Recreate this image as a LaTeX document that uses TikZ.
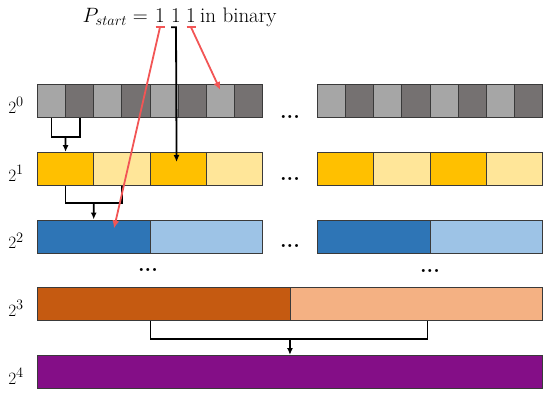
\documentclass[tikz,border=0pt]{standalone}
\usetikzlibrary{arrows.meta,calc}
\definecolor{gL}{HTML}{A6A6A6}
\definecolor{gD}{HTML}{757171}
\definecolor{yD}{HTML}{FFC000}
\definecolor{yL}{HTML}{FFE699}
\definecolor{bD}{HTML}{2E75B6}
\definecolor{bL}{HTML}{9DC3E6}
\definecolor{oD}{HTML}{C55A11}
\definecolor{oL}{HTML}{F4B183}
\definecolor{pu}{HTML}{840E87}
\definecolor{rd}{HTML}{F25555}
\definecolor{bord}{HTML}{3A3A3A}
\begin{document}
\begin{tikzpicture}[x=1pt,y=-1pt,
  cell/.style={draw=bord,line width=0.9pt,inner sep=0pt,anchor=north west,minimum height=33pt},
  lab/.style={anchor=base,inner sep=0pt,font=\fontsize{19}{22}\selectfont},
  dots/.style={inner sep=0pt,font=\fontsize{21}{24}\selectfont\bfseries},
  conn/.style={draw=black,line width=1.8pt},
  tip/.style={-{Latex[length=7pt,width=6pt]}},
  redarr/.style={draw=rd,line width=1.8pt,-{Latex[length=8pt,width=7pt]}},
  ttl/.style={inner sep=0pt,anchor=base,font=\fontsize{21}{24}\selectfont}]
\useasboundingbox (0,0) rectangle (550,394);
% row 0
\foreach \i/\c in {1/gL,2/gD,3/gL,4/gD,5/gL,6/gD,7/gL,8/gD}{
  \node[cell,fill=\c,minimum width=28.125pt] (r0c\i) at ({37+(\i-1)*28.125},84) {};
  \node[cell,fill=\c,minimum width=28.125pt] (r0d\i) at ({317+(\i-1)*28.125},84) {};
}
% row 1
\foreach \i/\c in {1/yD,2/yL,3/yD,4/yL}{
  \node[cell,fill=\c,minimum width=56.25pt] (r1c\i) at ({37+(\i-1)*56.25},152) {};
  \node[cell,fill=\c,minimum width=56.25pt] (r1d\i) at ({317+(\i-1)*56.25},152) {};
}
% row 2
\foreach \i/\c in {1/bD,2/bL}{
  \node[cell,fill=\c,minimum width=112.5pt] (r2c\i) at ({37+(\i-1)*112.5},219.5) {};
  \node[cell,fill=\c,minimum width=112.5pt] (r2d\i) at ({317+(\i-1)*112.5},219.5) {};
}
% row 3
\node[cell,fill=oD,minimum width=253pt] (r3c1) at (37,287) {};
\node[cell,fill=oL,minimum width=252pt] (r3c2) at (290,287) {};
% row 4
\node[cell,fill=pu,minimum width=505pt] (r4) at (37,355) {};
% labels
\node[lab] (l0) at (16,113) {$2^0$};
\node[lab] (l1) at (16,181) {$2^1$};
\node[lab] (l2) at (16,248.5) {$2^2$};
\node[lab] (l3) at (16,316) {$2^3$};
\node[lab] (l4) at (16,384) {$2^4$};
% dots
\node[dots] (e0) at (290,117) {...};
\node[dots] (e1) at (290,179) {...};
\node[dots] (e2) at (290,246) {...};
\node[dots] (e3) at (148,270) {...};
\node[dots] (e4) at (430,271) {...};
% title
\node[ttl,anchor=base east] (pst) at (148,22) {$P_{start}=$};
\node[ttl] (one1) at (160,22) {1};
\node[ttl] (one2) at (176,22) {1};
\node[ttl] (one3) at (191,22) {1};
\node[ttl,anchor=base west] (bin) at (200,22) {in binary};
% brackets
\draw[conn] (r0c1.south) -- ++(0,19) -| (r0c2.south);
\draw[conn,tip] ($(r0c1.south)!.5!(r0c2.south)+(0,19)$) -- (r1c1.north);
\draw[conn] (r1c1.south) -- ++(0,17) -| (r1c2.south);
\draw[conn,tip] ($(r1c1.south)!.5!(r1c2.south)+(0,17)$) -- (r2c1.north);
\draw[conn] ($(r3c1.south)+(-13.5,0)$) -- ++(0,18) -| ($(r3c2.south)+(11,0)$);
\draw[conn,tip] (r4.north |- 0,339) -- (r4.north);
% arrows from the digits
\draw[conn,tip] ($(one2.south)+(-5,5)$) -- ($(one2.south)+(0,5)$) -- ($(r1c3.north)+(-1.5,10)$);
\draw[draw=rd,line width=1.8pt] ($(one1.south)+(-4.5,5)$) -- ($(one1.south)+(4.5,5)$);
\draw[redarr] ($(one1.south)+(0,5)$) -- ($(r2c1.north west)+(77,9)$);
\draw[draw=rd,line width=1.8pt] ($(one3.south)+(-4.5,5)$) -- ($(one3.south)+(4.5,5)$);
\draw[redarr] ($(one3.south)+(0,5)$) -- ($(r0c7.north)+(0,6)$);
\end{tikzpicture}
\end{document}
